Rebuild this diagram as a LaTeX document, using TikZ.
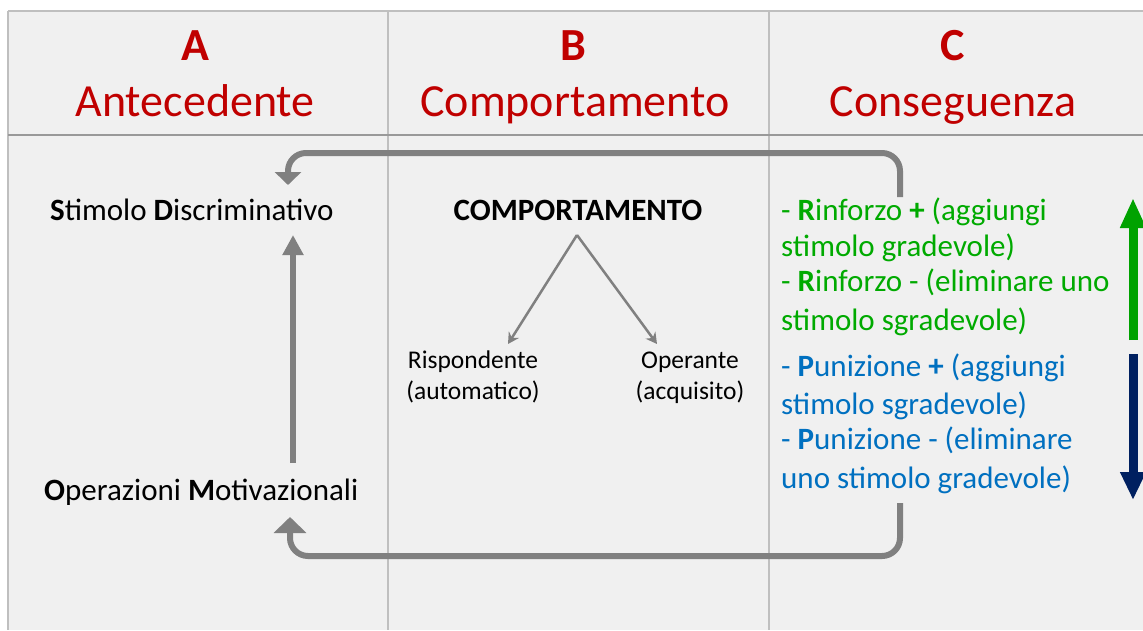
\documentclass[tikz,border=0pt]{standalone}
\usepackage{fontspec}
\setmainfont{Carlito}
\usetikzlibrary{arrows.meta}
\definecolor{hdr}{HTML}{C00000}
\definecolor{bg}{HTML}{F0F0F0}
\definecolor{grid}{HTML}{BFBFBF}
\definecolor{arr}{HTML}{808080}
\definecolor{gtxt}{HTML}{00AA00}
\definecolor{btxt}{HTML}{0070C0}
\definecolor{dblue}{HTML}{002060}
\tikzset{
  hdrtxt/.style={text=hdr, inner sep=0pt, anchor=base, font=\fontsize{46}{50}\selectfont},
  bodytxt/.style={inner sep=0pt, anchor=base west, font=\fontsize{31}{36}\selectfont},
  smalltxt/.style={inner sep=0pt, anchor=base, font=\fontsize{25.5}{30}\selectfont},
  gline/.style={bodytxt, text=gtxt},
  bline/.style={bodytxt, text=btxt},
  loopline/.style={draw=arr, line width=6pt, rounded corners=18pt},
  branch/.style={draw=arr, line width=2.5pt, -{Stealth[width=12pt,length=11pt]}},
  gridline/.style={draw=grid, line width=1.5pt}
}
\begin{document}
\begin{tikzpicture}[x=1pt,y=-1pt]
\useasboundingbox (0,0) rectangle (1143,630);
\fill[white] (0,0) rectangle (1143,630);
\fill[bg] (8,11) rectangle (1143,630);
% grid
\draw[gridline] (8,11) -- (1143,11);
\draw[gridline] (8,11) -- (8,630);
\draw[gridline] (388,11) -- (388,630);
\draw[gridline] (769,11) -- (769,630);
\draw[draw=grid!80!black, line width=2pt] (8,135) -- (1143,135);
% headers
\node[hdrtxt] (ha) at (195,60) {\bfseries A};
\node[hdrtxt] (hat) at (195,116) {Antecedente};
\node[hdrtxt] (hb) at (573,60) {\bfseries B};
\node[hdrtxt] (hbt) at (575,116) {Comportamento};
\node[hdrtxt] (hc) at (953,60) {\bfseries C};
\node[hdrtxt] (hct) at (953,116) {Conseguenza};
% column A
\node[bodytxt] (sd) at (50,220) {\textbf{S}timolo \textbf{D}iscriminativo};
\node[bodytxt] (om) at (44,500) {\textbf{O}perazioni \textbf{M}otivazionali};
% column B
\node[bodytxt, anchor=base, font=\fontsize{31}{36}\selectfont\bfseries] (comp) at (578,220) {COMPORTAMENTO};
\node[smalltxt] (risp) at (473,368) {Rispondente};
\node[smalltxt] (risp2) at (473,399) {(automatico)};
\node[smalltxt] (oper) at (690,368) {Operante};
\node[smalltxt] (oper2) at (690,399) {(acquisito)};
\coordinate (apex) at (577,235);
\draw[branch] (apex) -- (508,344) coordinate (rtip);
\draw[branch] (apex) -- (657,344) coordinate (otip);
% column C
\node[gline] (g1) at (781,220) {- \textbf{R}inforzo \textbf{+} (aggiungi};
\node[gline] (g2) at (781,256) {stimolo gradevole)};
\node[gline] (g3) at (781,291) {- \textbf{R}inforzo - (eliminare uno};
\node[gline] (g4) at (781,330) {stimolo sgradevole)};
\node[bline] (b1) at (781,376) {- \textbf{P}unizione \textbf{+} (aggiungi};
\node[bline] (b2) at (781,414) {stimolo sgradevole)};
\node[bline] (b3) at (781,449) {- \textbf{P}unizione - (eliminare};
\node[bline] (b4) at (781,488) {uno stimolo gradevole)};
% green / blue arrows
\draw[draw=gtxt!95!black, line width=9pt, -{Triangle[width=24pt,length=30pt]}] (1133,340) -- (1133,198);
\draw[draw=dblue, line width=9pt, -{Triangle[width=24pt,length=28pt]}] (1133,354) -- (1133,500);
% loops
\coordinate (topstart) at (900,197);
\coordinate (sdin) at (288,185);
\draw[loopline, -{Triangle[width=26pt,length=13pt]}] (topstart) -- (900,153) -- (288,153) -- (sdin);
\coordinate (botstart) at (900,503);
\coordinate (omin) at (290,517);
\draw[loopline, -{Triangle[width=32pt,length=16pt]}] (botstart) -- (900,556) -- (290,556) -- (omin);
% vertical OM -> SD
\coordinate (omtop) at (293,463);
\coordinate (sdbot) at (293,235);
\draw[draw=arr, line width=6pt, -{Triangle[width=20pt,length=20pt]}] (omtop) -- (sdbot);
\end{tikzpicture}
\end{document}
